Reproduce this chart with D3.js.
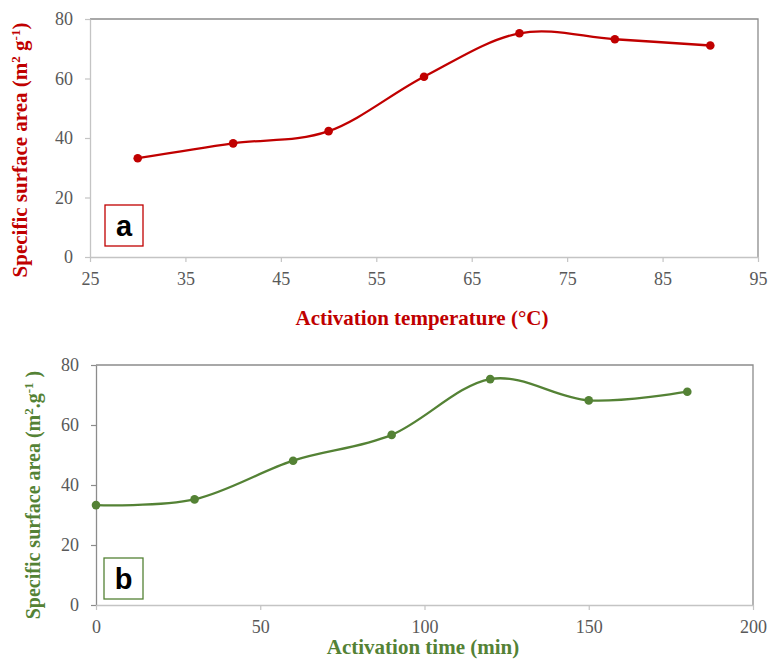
<!DOCTYPE html>
<html>
<head>
<meta charset="utf-8">
<script src="https://cdn.jsdelivr.net/npm/d3@7"></script>
<style>
  html, body { margin: 0; padding: 0; background: #fff; }
  svg { display: block; }
</style>
</head>
<body>
<svg id="chart" width="768" height="660"></svg>
<script>
// Panel (a): specific surface area vs activation temperature
const tempC = [30, 40, 50, 60, 70, 80, 90];
const areaByTemp = [33.2, 38.2, 42.3, 60.6, 75.2, 73.2, 71.1];
const tempTicks = [25, 35, 45, 55, 65, 75, 85, 95];

// Panel (b): specific surface area vs activation time
const timeMin = [0, 30, 60, 90, 120, 150, 180];
const areaByTime = [33.3, 35.2, 48.1, 56.7, 75.3, 68.2, 71.1];
const timeTicks = [0, 50, 100, 150, 200];

const areaTicks = [0, 20, 40, 60, 80];

const svg = d3.select("#chart");
const serif = "'Liberation Serif', 'Times New Roman', serif";

function panel(cfg) {
  const g = svg.append("g");
  const x = d3.scaleLinear().domain(cfg.xDomain).range([cfg.left, cfg.right]);
  const y = d3.scaleLinear().domain([0, 80]).range([cfg.bottom, cfg.top]);

  // plot-area frame (top and right edges)
  g.append("path")
    .attr("d", `M${cfg.left},${cfg.top}H${cfg.right}V${cfg.bottom}`)
    .attr("fill", "none").attr("stroke", "#8c8c8c").attr("stroke-width", 1.3);

  // y axis
  const yAxis = g.append("g")
    .attr("transform", `translate(${cfg.left},0)`)
    .call(d3.axisLeft(y).tickValues(areaTicks).tickSize(5).tickPadding(12).tickSizeOuter(0));
  yAxis.select(".domain").attr("stroke", cfg.leftAxisColor).attr("stroke-width", 1.3);
  yAxis.selectAll(".tick line").attr("stroke", cfg.leftAxisColor).attr("stroke-width", 1.2);
  yAxis.selectAll(".tick text")
    .attr("fill", "#595959").attr("font-family", serif).attr("font-size", 18);

  // x axis
  const xAxis = g.append("g")
    .attr("transform", `translate(0,${cfg.bottom})`)
    .call(d3.axisBottom(x).tickValues(cfg.xTicks).tickSize(5).tickPadding(10).tickSizeOuter(0));
  xAxis.select(".domain").attr("stroke", "#c4c4c4").attr("stroke-width", 1.3);
  xAxis.selectAll(".tick line").attr("stroke", "#c4c4c4").attr("stroke-width", 1.2);
  xAxis.selectAll(".tick text")
    .attr("fill", "#595959").attr("font-family", serif).attr("font-size", 18);

  // smoothed line and markers
  const pts = cfg.xs.map((v, i) => [v, cfg.ys[i]]);
  g.append("path")
    .datum(pts)
    .attr("fill", "none")
    .attr("stroke", cfg.color)
    .attr("stroke-width", 2.3)
    .attr("d", d3.line().x(d => x(d[0])).y(d => y(d[1])).curve(d3.curveCardinal.tension(0)));
  g.selectAll("circle.pt")
    .data(pts).enter().append("circle")
    .attr("class", "pt")
    .attr("cx", d => x(d[0])).attr("cy", d => y(d[1]))
    .attr("r", 4.3).attr("fill", cfg.color);

  // panel letter box
  g.append("rect")
    .attr("x", cfg.box[0]).attr("y", cfg.box[1])
    .attr("width", cfg.box[2]).attr("height", cfg.box[3])
    .attr("fill", "#fff").attr("stroke", cfg.color).attr("stroke-width", 1.3);
  g.append("text")
    .attr("x", cfg.box[0] + cfg.box[2] / 2).attr("y", cfg.box[1] + cfg.box[3] / 2 + 10)
    .attr("text-anchor", "middle")
    .attr("font-family", "'Liberation Sans', Arial, sans-serif")
    .attr("font-weight", "bold").attr("font-size", 29).attr("fill", "#000")
    .text(cfg.letter);

  // x title
  g.append("text")
    .attr("x", cfg.xTitlePos[0]).attr("y", cfg.xTitlePos[1])
    .attr("text-anchor", "middle")
    .attr("font-family", serif).attr("font-weight", "bold").attr("font-size", 21)
    .attr("fill", cfg.color)
    .text(cfg.xTitle);

  // y title (rotated) with superscripts
  const yt = g.append("text")
    .attr("transform", `translate(${cfg.yTitlePos[0]},${cfg.yTitlePos[1]}) rotate(-90)`)
    .attr("text-anchor", "middle")
    .attr("font-family", serif).attr("font-weight", "bold").attr("font-size", cfg.yTitleSize)
    .attr("fill", cfg.color);
  cfg.yTitle.forEach(part => {
    const t = yt.append("tspan").text(part.t);
    if (part.sup) t.attr("dy", -7).attr("font-size", 13);
    if (part.after) t.attr("dy", 7);
  });
}

panel({
  xDomain: [25, 95], xTicks: tempTicks, xs: tempC, ys: areaByTemp,
  left: 90, right: 758, top: 19, bottom: 257,
  color: "#C00000", leftAxisColor: "#c4c4c4",
  box: [105, 205, 38, 41], letter: "a",
  xTitle: "Activation temperature (\u00B0C)", xTitlePos: [422, 325],
  yTitlePos: [27, 150], yTitleSize: 21,
  yTitle: [
    { t: "Specific surface area (m" },
    { t: "2", sup: true },
    { t: " g", after: true },
    { t: "-1", sup: true },
    { t: ")", after: true }
  ]
});

panel({
  xDomain: [0, 200], xTicks: timeTicks, xs: timeMin, ys: areaByTime,
  left: 96, right: 753, top: 365, bottom: 605,
  color: "#548235", leftAxisColor: "#8c8c8c",
  box: [104, 558, 39, 41], letter: "b",
  xTitle: "Activation time (min)", xTitlePos: [423, 654],
  yTitlePos: [40, 495], yTitleSize: 20,
  yTitle: [
    { t: "Specific surface area (m" },
    { t: "2", sup: true },
    { t: ".g", after: true },
    { t: "-1", sup: true },
    { t: " )", after: true }
  ]
});
</script>
</body>
</html>
